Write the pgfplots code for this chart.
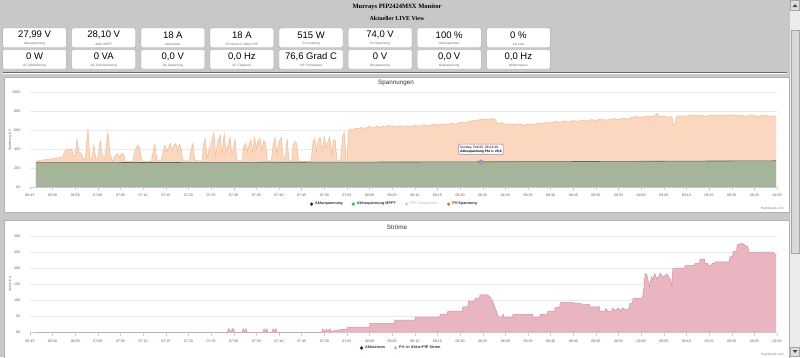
\documentclass[border=0pt]{standalone}
\usepackage{pgfplots}
\usepackage{pgfplotstable}
\pgfplotsset{compat=1.18}
\usepackage{fontspec}
\setmainfont{Liberation Sans}
\newfontfamily\titlefont{Liberation Serif}

\definecolor{pagebg}{RGB}{200,200,200}
\definecolor{tileborder}{RGB}{170,170,170}
\definecolor{lblgray}{RGB}{110,110,110}
\definecolor{ticklbl}{RGB}{96,96,96}
\definecolor{gridc}{RGB}{234,234,234}
\definecolor{axisc}{RGB}{192,208,224}
\definecolor{pvfill}{RGB}{250,215,190}
\definecolor{pvline}{RGB}{244,188,148}
\definecolor{akkufill}{RGB}{166,180,153}
\definecolor{akkuline}{RGB}{95,105,88}
\definecolor{pinkfill}{RGB}{232,181,193}
\definecolor{pinkline}{RGB}{214,145,162}
\definecolor{legblue}{RGB}{20,20,160}
\definecolor{leggreen}{RGB}{40,200,40}
\definecolor{leggray}{RGB}{205,205,205}
\definecolor{legorange}{RGB}{225,120,40}
\definecolor{legdarkred}{RGB}{110,10,30}
\definecolor{legpink}{RGB}{228,165,185}
\definecolor{tipborder}{RGB}{140,130,190}
\definecolor{legtext}{RGB}{51,51,51}

\pgfplotstableread{
t v
1.3 26
1.5 27.5
3 28.5
4.5 29.5
6 30.5
7.2 31.5
7.6 37
8.2 39.5
9.0 40
9.3 39
9.6 33
10.0 34
10.4 51
10.8 36
11.3 36
11.7 30
12.2 29
12.8 61
13.2 30
13.7 31
14.1 44
14.5 31
15.0 30
15.5 49
16.0 33
16.5 30
17.2 57
17.7 34
18.2 27
18.8 33
19.3 35
19.8 31
20.2 35
20.7 34
21.1 27
22.7 27
23.2 38
23.8 44
24.3 40
24.7 27
26.8 27
27.2 37
27.6 45
28.0 29
28.9 27
29.4 36
29.8 44
30.2 37
30.6 42
31.0 46
31.4 39
31.8 44
32.2 46
32.6 37
33.0 45
33.4 40
33.8 28
35.2 27
35.6 40
36.0 46
36.4 28
38.0 27
38.3 44
38.7 51
39.1 31
39.6 40
40.0 45
40.6 57
41.0 33
41.5 48
42.0 55
42.4 34
42.9 56
43.3 36
43.8 45
44.2 52
44.6 33
45.0 42
45.3 50
45.7 28
46.8 27
47.2 42
47.6 46
48.0 37
48.4 45
48.8 50
49.2 36
49.6 52
50.0 41
50.4 49
50.8 51
51.2 38
51.6 49
52.0 47
52.4 28
53.3 27
53.7 44
54.1 52
54.5 35
55.0 48
55.5 52
55.9 32
56.4 30
56.8 51
57.2 28
57.8 27
58.1 44
58.5 48
58.9 46
59.3 27
62.1 27
62.5 47
62.9 51
63.3 37
63.7 50
64.1 52
64.5 38
65.0 53
65.4 41
65.8 47
66.2 53
66.6 34
67.0 48
67.4 50
67.8 28
68.6 28
69.0 52
69.4 58
69.8 30
70.1 31
70.3 59
70.8 61
71.4 60
72.0 62
72.6 61
73.2 63
73.8 61.5
74.4 62.5
75.0 64
75.6 62
76.2 63
76.8 64.5
77.4 62.5
78.0 64
78.6 63
79.2 65
79.8 63.5
80.4 64.5
81.0 63
81.7 64.5
82.5 63.5
83.3 64.5
84.0 63.5
85.0 65
86.0 64
87.0 65.5
88.0 64.5
89.0 66
90.0 65
91.0 66.5
92.0 65.5
93.0 67
94.0 66
95.0 68
96.0 67.5
97.0 69
98.0 70
99.0 70.5
100.0 71.5
101.0 71
102.0 72
102.8 71
103.2 67
104.0 67.5
105.0 66
106.0 66.5
107.0 65.5
108.0 66.5
109.0 65
110.0 66
111.0 65.5
112.0 67
113.0 66.5
114.0 68
115.0 67.5
116.0 69
117.0 68
118.0 69.5
119.0 68.5
120.0 70
121.0 69
122.0 70.5
123.0 69.5
124.0 71
125.0 70
126.0 71.5
127.0 70.5
128.0 71
129.0 72
130.0 71
131.0 72.5
132.0 71.5
133.0 73.5
134.0 74
135.0 73
136.0 74.5
137.0 74
138.0 75
138.5 77.5
139.0 74
140.0 74.5
141.0 73.5
141.8 74
142.0 65
142.5 68
142.9 74.5
144.0 75
145.0 74.5
146.0 75.5
147.0 75
148.0 75.5
149.0 74.5
150.0 75.5
151.0 75
152.0 76
153.0 75
154.0 75.5
155.0 76
156.0 75
157.0 75.5
158.0 74.5
159.0 75.5
160.0 75
161.0 74.5
162.0 75.5
163.0 75
164.0 74.5
164.8 74.5
}\pvdata

\pgfplotstableread{
t v
1.3 25.6
40 25.9
80 26.3
120 26.8
164.8 27.6
}\akkudata

\pgfplotstableread{
t a
1.3 0
43.5 0
43.9 1.3
44.3 0.2
44.8 1.3
45.3 0
46.8 0
47.1 1.2
47.4 0.2
47.7 1.2
48.0 0
51.4 0
51.7 1.2
52.0 0.2
52.3 1.2
52.6 0
53.4 0
53.7 1.2
54.0 0.2
54.3 1.2
54.6 0
64.4 0
64.7 1.2
65.0 0.2
65.4 1.1
65.8 0.3
66.2 1.2
66.6 0.4
66.9 0.5
68 0.8
69 1.0
70 1.1
70.2 1.7
75 1.7
75.1 2.9
80.5 2.9
80.6 3.9
85 3.9
85.1 4.8
90.5 4.8
90.6 5.7
92.2 5.7
92.3 6.7
95.5 6.7
95.6 8
96.7 8
96.8 9.8
98.2 9.8
98.3 10.7
99.3 10.7
99.4 11.7
101.1 11.7
101.5 11.2
102.1 10
103.2 6
103.5 4.8
104.3 4.8
104.5 5.8
104.7 4.8
106.6 4.8
106.7 5.7
111 5.7
111.1 4.8
112.6 4.8
112.7 5.7
114.3 5.7
114.4 6.7
115.9 6.7
116 7.8
117 7.8
117.1 9.4
119.7 9.4
120.5 9.0
121.5 9.2
122 8.7
123.6 8.7
123.7 8.0
125.8 8.0
125.9 6.7
127 6.7
127.2 7.5
127.6 6.7
128.5 6.7
128.7 7.6
129.2 6.9
130 7.6
130.5 6.8
131 7.7
131.6 7.0
132.4 7.6
132.5 9.2
133.1 9.2
133.2 10.7
135.3 10.7
135.6 14
135.9 18.4
136.3 17.8
136.8 14.3
137.3 17.4
137.6 16.5
138 18.4
138.5 16.6
139.2 18.4
139.8 17.2
140.7 18.2
141.2 17.0
141.5 16.5
141.8 14.3
142 20
144.6 20
144.7 20.8
146.8 20.8
146.9 21.5
147.9 21.5
148 22.8
149 22.8
149.1 21.5
149.7 21.5
149.8 20.8
150.5 20.8
150.7 21.5
151.2 21.5
151.3 22
154.5 22
154.6 23.6
155.2 23.6
155.3 25.2
156.1 25.2
156.2 27.2
157 27.6
157.3 27.8
158 27
158.5 26.7
158.8 25.3
159 24.7
159.5 25
161.8 25
161.9 24.2
162.3 25
164 25
164.4 24.5
164.8 24
}\stromdata

\pgfplotsset{
 dash/.style={
  scale only axis, width=747pt,
  xmin=0, xmax=165,
  axis lines*=left,
  x axis line style={draw=axisc, line width=0.5pt},
  y axis line style={draw=none},
  ymajorgrids, grid style={draw=gridc, line width=0.5pt},
  xtick={0,5,...,165},
  xticklabels={06:45,06:50,06:55,07:00,07:05,07:10,07:15,07:20,07:25,07:30,07:35,07:40,07:45,07:50,07:55,08:00,08:05,08:10,08:15,08:20,08:25,08:30,08:35,08:40,08:45,08:50,08:55,09:00,09:05,09:10,09:15,09:20,09:25,09:30},
  tick label style={font=\fontsize{3.6}{4}\selectfont, text=ticklbl},
  xtick style={draw=axisc, line width=0.4pt},
  ytick style={draw=none},
  tick align=outside, major tick length=3pt,
  xticklabel style={yshift=-0.3pt},
  yticklabel style={xshift=-3pt},
  legend style={draw=none, fill=none, font=\fontsize{3.8}{4}\selectfont\bfseries, text=legtext,
    legend columns=-1, legend cell align=left,
    /tikz/every even column/.append style={column sep=7pt}},
  legend image code/.code={\fill[#1] (0pt,0pt) circle (1.4pt);},
 }
}

\newcommand\tile[4]{%
 \draw[tileborder, fill=white, rounded corners=1.5pt, line width=0.4pt] (#1pt,-#2pt) rectangle ++(64pt,-19.5pt);
 \node[font=\fontsize{9.5}{10}\selectfont, text=black] at ({#1pt+32pt},{-#2pt-7pt}) {#3};
 \node[font=\fontsize{3.2}{4}\selectfont, text=lblgray] at ({#1pt+32pt},{-#2pt-16pt}) {#4};
}

\begin{document}
\begin{tikzpicture}
\useasboundingbox (0pt,0pt) rectangle (800pt,-357pt);
\fill[pagebg] (0pt,0pt) rectangle (800pt,-357pt);

% titles
\node[font=\titlefont\bfseries\fontsize{6.5}{7}\selectfont] at (397pt,-6.5pt) {Murrays PIP2424MSX Monitor};
\node[font=\titlefont\bfseries\fontsize{6}{7}\selectfont] at (397pt,-18.5pt) {Aktueller LIVE View};

% tiles
\tile{2.6}{28}{27,99 V}{Akkuspannung}
\tile{71.7}{28}{28,10 V}{Akku MPPT}
\tile{140.8}{28}{18 A}{Akkustrom}
\tile{209.9}{28}{18 A}{PV-Strom in Akku+PIP}
\tile{279}{28}{515 W}{PV-Leistung}
\tile{348.1}{28}{74,0 V}{PV-Spannung}
\tile{417.2}{28}{100 \%}{Akkukapazität}
\tile{486.3}{28}{0 \%}{AC Last}
\tile{2.6}{49.5}{0 W}{AC Wirkleistung}
\tile{71.7}{49.5}{0 VA}{AC Scheinleistung}
\tile{140.8}{49.5}{0,0 V}{AC Spannung}
\tile{209.9}{49.5}{0,0 Hz}{AC Frequenz}
\tile{279}{49.5}{76,6 Grad C}{PIP Temperatur}
\tile{348.1}{49.5}{0 V}{Busspannung}
\tile{417.2}{49.5}{0,0 V}{Netzspannung}
\tile{486.3}{49.5}{0,0 Hz}{Netzfrequenz}

% separator
\draw[gray!80!black, line width=0.5pt] (3pt,-72pt) -- (787pt,-72pt);
\draw[white, line width=0.5pt] (3pt,-72.8pt) -- (787pt,-72.8pt);

% panels
\draw[gray!60, fill=white, line width=0.4pt] (4pt,-77pt) rectangle (789pt,-212pt);
\draw[gray!60, fill=white, line width=0.4pt] (4pt,-220pt) rectangle (789pt,-362pt);

% panel 1 texts
\node[font=\fontsize{6.3}{7}\selectfont, text=legtext] at (396pt,-83pt) {Spannungen};
\node[font=\fontsize{3.3}{4}\selectfont, text=ticklbl, rotate=90] at (10pt,-140pt) {Spannung in V};
\node[font=\fontsize{3.2}{4}\selectfont, text=gray, anchor=east] at (787pt,-209pt) {Highcharts.com};

\begin{axis}[dash, at={(30pt,-187pt)}, anchor=south west, height=95pt,
  ymin=0, ymax=100, ytick={0,20,...,100}, yticklabels={0V,20V,40V,60V,80V,100V},
  legend style={at={(0.488,-0.18)}, anchor=center}]
\addplot[fill=pvfill, draw=none, forget plot] table[x=t,y=v] {\pvdata} \closedcycle;
\addplot[draw=pvline, line width=0.5pt, forget plot] table[x=t,y=v] {\pvdata};
\addplot[fill=akkufill, draw=none, forget plot] table[x=t,y=v] {\akkudata} \closedcycle;
\addplot[draw=akkuline, line width=0.6pt, forget plot] table[x=t,y=v] {\akkudata};
\addplot[only marks, mark=*, mark size=2pt, mark options={fill=tipborder!80, draw=tipborder}, forget plot] coordinates {(99.6,26.4)};
\node[draw=tipborder, fill=white, fill opacity=0.92, text opacity=1, rounded corners=1.2pt, inner sep=1.6pt,
  font=\fontsize{3.3}{4.2}\selectfont, align=left, line width=0.5pt] at (axis cs:99.6,39.5)
  {Sunday, Feb 05, 08:24:40\\\textbf{Akkuspannung Pkt 1: 26,6}};
\addlegendimage{legblue}\addlegendentry{Akkuspannung}
\addlegendimage{leggreen}\addlegendentry{Akkuspannung MPPT}
\addlegendimage{leggray}\addlegendentry{\textcolor{leggray}{PIP-Temperatur}}
\addlegendimage{legorange}\addlegendentry{PV-Spannung}
\end{axis}

% panel 2 texts
\node[font=\fontsize{6.3}{7}\selectfont, text=legtext] at (397pt,-227.5pt) {Ströme};
\node[font=\fontsize{3.3}{4}\selectfont, text=ticklbl, rotate=90] at (10pt,-284pt) {Strom in A};
\node[font=\fontsize{3.2}{4}\selectfont, text=gray, anchor=east] at (787pt,-355pt) {Highcharts.com};

\begin{axis}[dash, at={(30pt,-332.7pt)}, anchor=south west, height=96.7pt,
  ymin=0, ymax=30, ytick={0,5,...,30}, yticklabels={0A,5A,10A,15A,20A,25A,30A},
  legend style={at={(0.497,-0.158)}, anchor=center}]
\addplot[fill=pinkfill, draw=none, forget plot] table[x=t,y=a] {\stromdata} \closedcycle;
\addplot[draw=pinkline, line width=0.5pt, forget plot] table[x=t,y=a] {\stromdata};
\addlegendimage{legdarkred}\addlegendentry{Akkustrom}
\addlegendimage{legpink}\addlegendentry{PV- in Akku+PIP Strom}
\end{axis}

% scrollbar
\fill[gray!15] (790pt,0pt) rectangle (800pt,-357pt);
\draw[gray!70, fill=gray!25, line width=0.3pt] (790.5pt,-0.5pt) rectangle (799.5pt,-10pt);
\fill[black!70] (792.5pt,-7pt) -- (797.5pt,-7pt) -- (795pt,-4pt) -- cycle;
\draw[gray!70, fill=gray!30, line width=0.3pt] (790.8pt,-30pt) rectangle (799.2pt,-253pt);
\draw[gray!70, fill=gray!25, line width=0.3pt] (790.5pt,-347pt) rectangle (799.5pt,-356.5pt);
\fill[black!70] (792.5pt,-350pt) -- (797.5pt,-350pt) -- (795pt,-353pt) -- cycle;
\end{tikzpicture}
\end{document}
